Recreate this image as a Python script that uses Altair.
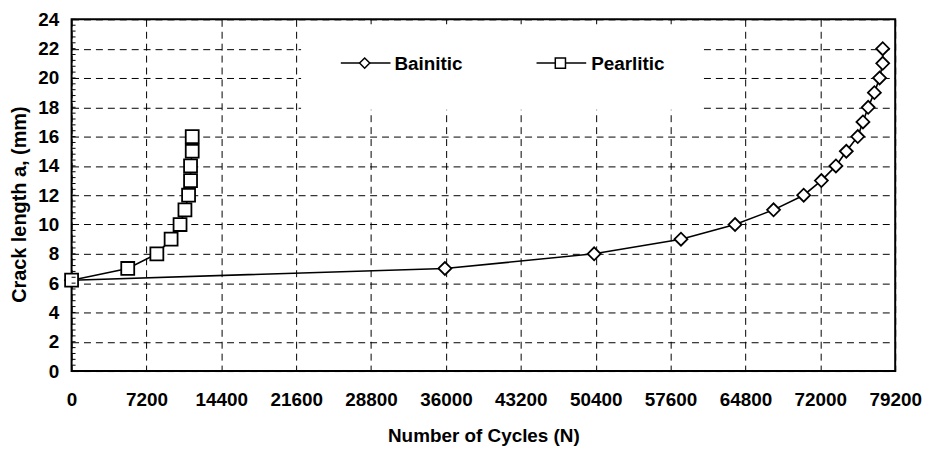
import altair as alt
import pandas as pd

# ---- data ----
bainitic_cycles = [0, 35900, 50250, 58600, 63800, 67500, 70400, 72100, 73500,
                   74500, 75600, 76100, 76600, 77200, 77700, 78000, 78000]
bainitic_length = [6.2, 7, 8, 9, 10, 11, 12, 13, 14, 15, 16, 17, 18, 19, 20, 21, 22]

pearlitic_cycles = [0, 5400, 8200, 9570, 10430, 10900, 11250, 11440, 11440, 11600, 11600]
pearlitic_length = [6.2, 7, 8, 9, 10, 11, 12, 13, 14, 15, 16]

series_names = ["Bainitic", "Pearlitic"]
series_shapes = ["diamond", "square"]
x_ticks = [0, 7200, 14400, 21600, 28800, 36000, 43200, 50400, 57600, 64800, 72000, 79200]
y_ticks = [0, 2, 4, 6, 8, 10, 12, 14, 16, 18, 20, 22, 24]

rows = []
for i, (n, a) in enumerate(zip(bainitic_cycles, bainitic_length)):
    rows.append({"series": "Bainitic", "N": n, "a": a, "idx": i})
for i, (n, a) in enumerate(zip(pearlitic_cycles, pearlitic_length)):
    rows.append({"series": "Pearlitic", "N": n, "a": a, "idx": i})
df = pd.DataFrame(rows)

minor = pd.DataFrame({"a": [round(k * 0.4, 1) for k in range(0, 61)]})
legend_df = pd.DataFrame({"series": series_names, "shape": series_shapes})

FONT = "Liberation Sans"

xscale = alt.Scale(domain=[0, 79200], nice=False, zero=False)
yscale = alt.Scale(domain=[0, 24], nice=False)

x_axis = alt.Axis(
    values=x_ticks, format="d", title="Number of Cycles (N)",
    grid=True, gridDash=[7, 5], gridColor="black", gridOpacity=1, gridWidth=1,
    domain=False, ticks=False, labelPadding=20, labelFontSize=19,
    labelFontWeight="bold", labelFont=FONT, labelColor="black",
    labelFlush=False, labelOverlap=False,
    titleFont=FONT, titleFontSize=19, titleFontWeight="bold",
    titleColor="black", titlePadding=17,
)
y_axis = alt.Axis(
    values=y_ticks, format="d", title="Crack length a, (mm)",
    grid=True, gridDash=[7, 5], gridColor="black", gridOpacity=1, gridWidth=1,
    domain=False, ticks=False, labelPadding=13, labelFontSize=19,
    labelFontWeight="bold", labelFont=FONT, labelColor="black",
    labelFlush=False, labelOverlap=False,
    titleFont=FONT, titleFontSize=20, titleFontWeight="bold",
    titleColor="black", titlePadding=8, titleY=186,
)

x_enc = alt.X("N:Q", scale=xscale, axis=x_axis)
y_enc = alt.Y("a:Q", scale=yscale, axis=y_axis)

base = alt.Chart(df)

lines = base.mark_line(color="black", strokeWidth=1.6).encode(
    x=x_enc, y=y_enc, detail="series:N", order="idx:Q"
)

points = base.mark_point(
    filled=True, fill="white", stroke="black", strokeWidth=1.8, opacity=1, size=170
).encode(
    x=x_enc, y=y_enc,
    shape=alt.Shape("series:N", scale=alt.Scale(domain=series_names, range=series_shapes), legend=None),
)

minor_ticks = alt.Chart(minor).mark_rule(color="black", strokeWidth=1).encode(
    y=y_enc,
    x=alt.value(0),
    x2=alt.value(4),
)

# ---- legend drawn inside the plot (positions in pixels of the plot area) ----
leg = alt.Chart(legend_df)
legend_box = leg.transform_filter(alt.datum.series == series_names[0]).mark_rect(
    fill="white", stroke=None
).encode(x=alt.value(231), x2=alt.value(636), y=alt.value(5), y2=alt.value(91))

legend_layers = [legend_box]
entry_pos = {"Bainitic": (271, 295, 321, 325), "Pearlitic": (468, 492, 518, 523)}
ROW_Y = 44
for name in series_names:
    x0, xc, x1, xt = entry_pos[name]
    sub = leg.transform_filter(alt.datum.series == name)
    legend_layers.append(
        sub.mark_rule(color="black", strokeWidth=1.6).encode(
            x=alt.value(x0), x2=alt.value(x1), y=alt.value(ROW_Y)
        )
    )
    legend_layers.append(
        sub.mark_point(filled=True, fill="white", stroke="black", strokeWidth=1.5, size=105, opacity=1).encode(
            x=alt.value(xc), y=alt.value(ROW_Y),
            shape=alt.Shape("shape:N", scale=None),
        )
    )
    legend_layers.append(
        sub.mark_text(
            align="left", baseline="middle", font=FONT, fontSize=19,
            fontWeight="bold", color="black",
        ).encode(x=alt.value(xt), y=alt.value(ROW_Y + 1), text="series:N")
    )

chart = (
    alt.layer(lines, points, minor_ticks, *legend_layers)
    .properties(
        width=829, height=354,
        background="white",
        autosize=alt.AutoSizeParams(type="none"),
        padding={"left": 64, "top": 10, "right": 30, "bottom": 74},
    )
    .configure_view(stroke="black", strokeWidth=2)
)

chart.save("out.html", embed_options={"renderer": "svg", "actions": False})
